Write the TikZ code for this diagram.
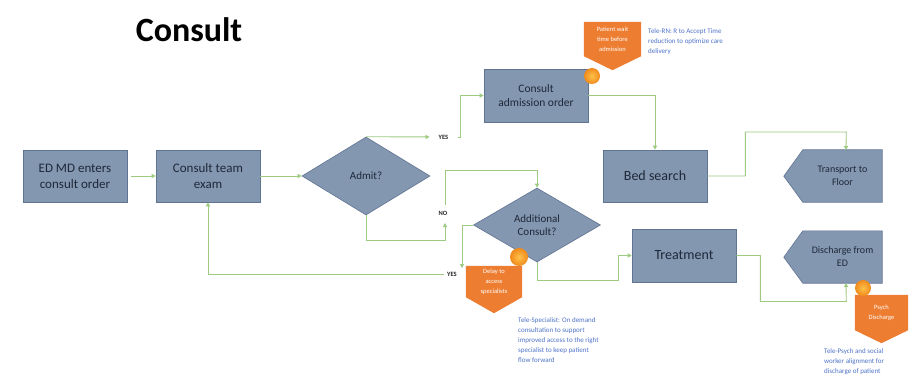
\documentclass[tikz,border=0pt]{standalone}
\usepackage{fontspec}
\setmainfont{Carlito}
\usetikzlibrary{shapes.geometric,calc,arrows.meta}
\pgfdeclarelayer{bg}
\pgfsetlayers{bg,main}
\definecolor{boxfill}{HTML}{8497B0}
\definecolor{boxline}{HTML}{5F7393}
\definecolor{boxtext}{HTML}{1E2838}
\definecolor{conncol}{HTML}{9DCB80}
\definecolor{orangec}{HTML}{ED7D31}
\definecolor{ballout}{HTML}{F08A1C}
\definecolor{ballin}{HTML}{FFC24A}
\definecolor{bluetxt}{HTML}{4F74C8}
\tikzset{
  box/.style={rectangle, fill=boxfill, draw=boxline, line width=0.6pt, text=boxtext, align=center,
    minimum width=104pt, minimum height=52pt, inner sep=2pt},
  dia/.style={diamond, fill=boxfill, draw=boxline, line width=0.6pt, text=boxtext, align=center,
    inner sep=0pt, font=\fontsize{11}{13}\selectfont},
  pentatext/.style={rectangle, text=boxtext, align=center, minimum width=79pt, minimum height=52pt,
    inner sep=1pt, font=\fontsize{10}{13}\selectfont},
  pentashape/.style={fill=boxfill, draw=boxline, line width=0.6pt},
  calltext/.style={rectangle, text=white, align=center, inner sep=1pt, font=\fontsize{6.5}{10}\selectfont},
  callshape/.style={fill=orangec},
  ballmark/.style={circle, inner sep=0pt, inner color=ballin, outer color=ballout},
  note/.style={anchor=north west, align=left, text=bluetxt, inner sep=0pt, font=\fontsize{7}{10}\selectfont},
  lbl/.style={inner sep=1pt, text=black!85, font=\bfseries\fontsize{6.5}{8}\selectfont},
  conn/.style={draw=conncol, line width=0.9pt, -{Triangle[length=4pt,width=4pt]}},
}
\begin{document}
\begin{tikzpicture}[x=1pt,y=-1pt]
\useasboundingbox (0,0) rectangle (909,382);
\begin{pgfonlayer}{bg}
\fill[white] (0,0) rectangle (909,382);
\end{pgfonlayer}

% title
\node[font=\bfseries\fontsize{34}{38}\selectfont, text=black] (title) at (189,30) {Consult};

% boxes
\node[box, font=\fontsize{13}{16}\selectfont] (ed) at (75,176) {ED MD enters\\consult order};
\node[box, font=\fontsize{13}{16}\selectfont] (cte) at (208,176) {Consult team\\exam};
\node[dia, minimum width=128pt, minimum height=78pt] (admit) at (366,176) {Admit?};
\node[box, font=\fontsize{11.5}{14.5}\selectfont, minimum height=53pt] (cao) at (536,95.5) {Consult\\admission order};
\node[box, font=\fontsize{14}{16}\selectfont] (bed) at (655,176) {Bed search};
\node[box, font=\fontsize{14}{16}\selectfont, minimum height=53pt] (tr) at (684,255.5) {Treatment};
\node[dia, minimum width=127pt, minimum height=74pt] (ac) at (537,225) {Additional\\Consult?};
\node[pentatext] (tf) at (842.5,176) {Transport to\\Floor};
\node[pentatext] (de) at (842.5,257) {Discharge from\\ED};
\begin{pgfonlayer}{bg}
\path[pentashape] (tf.north west) -- (tf.north east) -- (tf.south east) -- (tf.south west) -- ++(-19,-26) -- cycle;
\path[pentashape] (de.north west) -- (de.north east) -- (de.south east) -- (de.south west) -- ++(-19,-26) -- cycle;
\end{pgfonlayer}

% labels
\node[lbl] (yes1) at (443.5,137) {YES};
\node[lbl] (no) at (443,213) {NO};
\node[lbl] (yes2) at (452,274) {YES};

% connectors
\draw[conn, shorten <=4pt] (ed) -- (cte);
\draw[conn] (cte.east) -- (admit.west);
\draw[conn, shorten >=8pt] (admit.north) -- (yes1.west);
\draw[conn, shorten <=9pt] (yes1.east) -- ++(11,0) |- (cao.west);
\coordinate (noin) at (445,223);
\draw[conn] (admit.south) |- ++(79,25) -- (noin);
\draw[conn] (445,205) -- ++(0,-35) -| (ac.north);
\coordinate (y2in) at (462,268);
\draw[conn] (ac.west) -| (y2in);
\draw[conn, shorten <=2pt] (yes2.west) -| (cte.south);
\draw[conn] (ac.south) |- ++(81,18) |- (tr.west);
\draw[conn] (cao.east) -| (bed.north);
\coordinate (tfin) at (846,150);
\draw[conn] (bed.east) -- ++(38,0) |- ++(101,-44) -- (tfin);
\coordinate (dein) at (846,283);
\draw[conn] (tr.east) -- ++(24,0) |- ++(86,46) -- (dein);

% callouts
\node[calltext, minimum width=57pt, minimum height=34pt] (pw) at (612.5,39) {Patient wait\\time before\\admission};
\node[calltext, minimum width=56pt, minimum height=31pt] (dl) at (494,281.5) {Delay to\\access\\specialists};
\node[calltext, minimum width=53pt, minimum height=35pt] (pd) at (881.5,312.5) {Psych\\Discharge};
\begin{pgfonlayer}{bg}
\path[callshape] (pw.north west) -- (pw.north east) -- (pw.south east) -- ($(pw.south)+(0,14)$) -- (pw.south west) -- cycle;
\path[callshape] (dl.north west) -- (dl.north east) -- (dl.south east) -- ($(dl.south)+(0,16)$) -- (dl.south west) -- cycle;
\path[callshape] (pd.north west) -- (pd.north east) -- (pd.south east) -- ($(pd.south)+(0,13)$) -- (pd.south west) -- cycle;
\end{pgfonlayer}
\node[ballmark, minimum size=16pt] (b1) at (592,76) {};
\node[ballmark, minimum size=18pt] (b2) at (519,257) {};
\node[ballmark, minimum size=16pt] (b3) at (863,288) {};

% notes
\node[note] (n1) at (648,28) {Tele-RN: R to Accept Time\\reduction to optimize care\\delivery};
\node[note] (n2) at (518,317) {Tele-Specialist: On demand\\consultation to support\\improved access to the right\\specialist to keep patient\\flow forward};
\node[note] (n3) at (824,348) {Tele-Psych and social\\worker alignment for\\discharge of patient};
\end{tikzpicture}
\end{document}
